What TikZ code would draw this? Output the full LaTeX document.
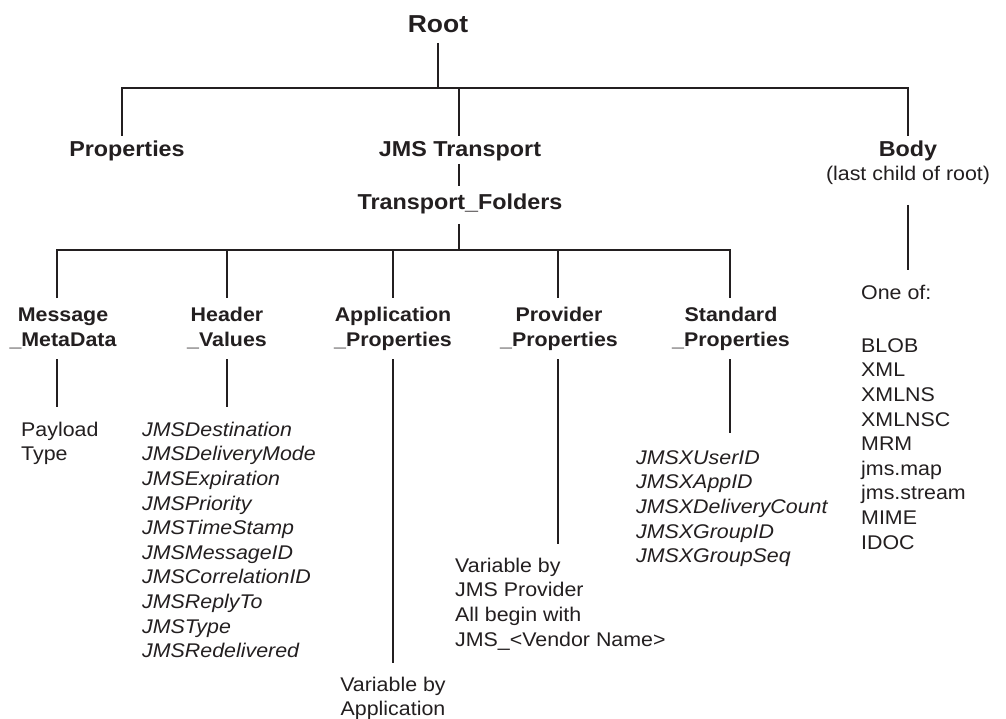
\documentclass[tikz,border=0pt]{standalone}
\usepackage{fontspec}
\setmainfont{Liberation Sans}[FakeStretch=1.08]
\definecolor{ink}{RGB}{35,31,32}
\begin{document}
\begin{tikzpicture}[x=1pt,y=-1pt,
  conn/.style={line width=1.8pt, draw=ink},
  toplbl/.style={font=\bfseries\fontsize{21.6}{25.5}\selectfont, align=center, inner sep=0pt, text=ink},
  lbl/.style={font=\bfseries\fontsize{19.8}{25}\selectfont, align=center, inner sep=0pt, text=ink},
  txt/.style={font=\fontsize{19.8}{24.6}\selectfont, align=left, inner sep=0pt, text=ink},
  itxt/.style={font=\itshape\fontsize{19.8}{24.6}\selectfont, align=left, inner sep=0pt, text=ink},
  ctxt/.style={font=\fontsize{19.8}{24.6}\selectfont, align=center, inner sep=0pt, text=ink}]
\useasboundingbox[fill=white] (0,0) rectangle (1006,719);

% ---- text nodes ----
\node[font=\bfseries\fontsize{24.5}{30}\selectfont, inner sep=0pt, text=ink, anchor=base] (root) at (438,33) {Root};
\node[toplbl, anchor=base] (props) at (127,157) {Properties};
\node[toplbl, anchor=base] (jms) at (460,157) {JMS Transport};
\node[toplbl, anchor=base] (body) at (908,157) {Body};
\node[ctxt, anchor=base] (bodysub) at (908,181) {(last child of root)};
\node[toplbl, anchor=base] (tf) at (460,210) {Transport\_Folders};

\node[lbl, anchor=north] (msg)  at (63, 321-17.5) {\strut Message\\\_MetaData};
\node[lbl, anchor=north] (hdr)  at (227,321-17.5) {\strut Header\\\_Values};
\node[lbl, anchor=north] (app)  at (393,321-17.5) {\strut Application\\\_Properties};
\node[lbl, anchor=north] (prov) at (559,321-17.5) {\strut Provider\\\_Properties};
\node[lbl, anchor=north] (std)  at (731,321-17.5) {\strut Standard\\\_Properties};

\node[txt, anchor=north west] (payload) at (21,436-17.22) {\strut Payload\\Type};
\node[itxt, anchor=north west] (hvlist) at (142,436-17.22) {\strut JMSDestination\\JMSDeliveryMode\\JMSExpiration\\JMSPriority\\JMSTimeStamp\\JMSMessageID\\JMSCorrelationID\\JMSReplyTo\\JMSType\\JMSRedelivered};
\node[ctxt, anchor=north] (applist) at (393,691-17.22) {\strut Variable by\\Application};
\node[txt, anchor=north west] (provlist) at (455,572-17.22) {\strut Variable by\\JMS Provider\\All begin with\\JMS\_<Vendor Name>};
\node[itxt, anchor=north west] (stdlist) at (636,464-17.22) {\strut JMSXUserID\\JMSXAppID\\JMSXDeliveryCount\\JMSXGroupID\\JMSXGroupSeq};
\node[txt, anchor=base west] (oneof) at (861,299) {One of:};
\node[txt, anchor=north west] (bodylist) at (861,352-17.22) {\strut BLOB\\XML\\XMLNS\\XMLNSC\\MRM\\jms.map\\jms.stream\\MIME\\IDOC};

% ---- connector end points ----
\coordinate (r0) at (438,43);  \coordinate (r1) at (438,88);
\coordinate (hL) at (122,88);  \coordinate (hR) at (908,88);
\coordinate (pE) at (122,136);
\coordinate (jT) at (459,88);  \coordinate (jE) at (459,136);
\coordinate (bE) at (908,136);
\coordinate (j2a) at (459,164); \coordinate (j2b) at (459,186);
\coordinate (t0) at (459,224); \coordinate (t1) at (459,250);
\coordinate (gL) at (57,250);  \coordinate (gR) at (730,250);
\coordinate (m1) at (57,298);  \coordinate (h0) at (227,250); \coordinate (h1) at (227,298);
\coordinate (a0) at (393,250); \coordinate (a1) at (393,298);
\coordinate (v0) at (558,250); \coordinate (v1) at (558,298);
\coordinate (s1) at (730,298);
\coordinate (mA) at (57,359);  \coordinate (mB) at (57,407);
\coordinate (hA) at (227,359); \coordinate (hB) at (227,407);
\coordinate (aA) at (393,359); \coordinate (aB) at (393,663);
\coordinate (vA) at (558,359); \coordinate (vB) at (558,544);
\coordinate (sA) at (730,359); \coordinate (sB) at (730,433);
\coordinate (yA) at (908,205); \coordinate (yB) at (908,270);

% ---- connectors ----
\draw[conn] (r0) -- (r1);
\draw[conn] (pE) -- (hL) -- (hR) -- (bE);
\draw[conn] (jT) -- (jE);
\draw[conn] (j2a) -- (j2b);
\draw[conn] (t0) -- (t1);
\draw[conn] (m1) -- (gL) -- (gR) -- (s1);
\draw[conn] (h0) -- (h1);
\draw[conn] (a0) -- (a1);
\draw[conn] (v0) -- (v1);
\draw[conn] (mA) -- (mB);
\draw[conn] (hA) -- (hB);
\draw[conn] (aA) -- (aB);
\draw[conn] (vA) -- (vB);
\draw[conn] (sA) -- (sB);
\draw[conn] (yA) -- (yB);
\end{tikzpicture}
\end{document}
